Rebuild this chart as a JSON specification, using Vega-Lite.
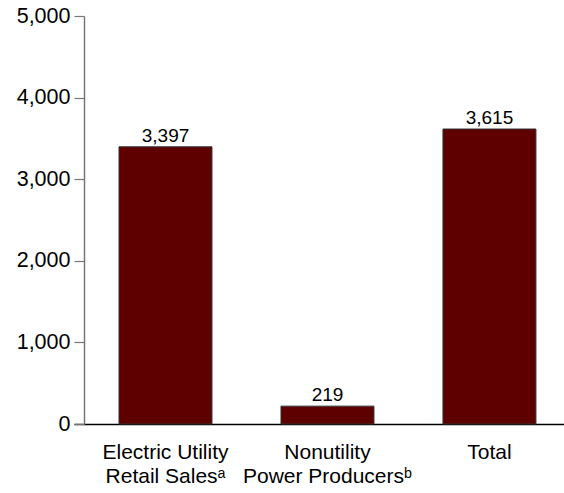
{
  "$schema": "https://vega.github.io/schema/vega-lite/v6.json",
  "autosize": "none",
  "width": 490,
  "height": 408,
  "padding": {"left": 74, "top": 16, "right": 0, "bottom": 69},
  "background": "white",
  "config": {
    "view": {"stroke": null},
    "font": "Liberation Sans",
    "axis": {"grid": false, "labelFont": "Liberation Sans", "labelColor": "#000000"}
  },
  "data": {
    "values": [
      {"category": "Electric Utility|Retail Salesᵃ", "value": 3397},
      {"category": "Nonutility|Power Producersᵇ", "value": 219},
      {"category": "Total", "value": 3615}
    ]
  },
  "encoding": {
    "x": {
      "field": "category",
      "type": "nominal",
      "sort": null,
      "scale": {"paddingInner": 0.426, "paddingOuter": 0.2255, "align": 0.616},
      "axis": {
        "title": null,
        "labelAngle": 0,
        "labelExpr": "split(datum.label, '|')",
        "labelFontSize": 21,
        "labelLineHeight": 24,
        "labelPadding": 17,
        "ticks": false,
        "domainColor": "#000000",
        "domainWidth": 1.5
      }
    },
    "y": {
      "field": "value",
      "type": "quantitative",
      "scale": {"domain": [0, 5000], "nice": false},
      "axis": {
        "title": null,
        "values": [0, 1000, 2000, 3000, 4000, 5000],
        "labelExpr": "format(datum.value, ',.0f')",
        "offset": -10,
        "labelFontSize": 21.5,
        "labelPadding": 4,
        "tickSize": 10,
        "tickColor": "#777777",
        "domainColor": "#777777",
        "domainWidth": 1.5,
        "tickWidth": 1.2
      }
    }
  },
  "layer": [
    {
      "mark": {"type": "bar", "color": "#5e0000", "stroke": "#333333", "strokeWidth": 1}
    },
    {
      "mark": {"type": "text", "baseline": "alphabetic", "dy": -5, "fontSize": 19, "color": "#000000"},
      "encoding": {"text": {"field": "value", "type": "quantitative", "format": ","}}
    }
  ]
}
